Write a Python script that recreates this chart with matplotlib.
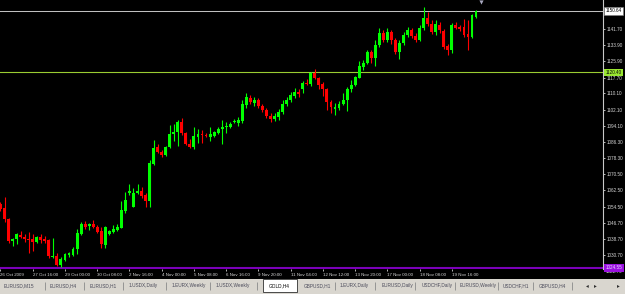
'''
GOLD H4 candlestick chart, MetaTrader style screenshot.
'''

#Imports
import matplotlib
matplotlib.use('Agg')
import numpy as np
import matplotlib.pyplot as plt
from matplotlib.patches import Rectangle

plt.rcParams['font.family'] = ['Liberation Sans', 'DejaVu Sans']

#Data (OHLC of the H4 bars)
opens = [1055.8, 1053.8, 1048.4, 1037.6, 1038.6, 1040.5, 1039.6, 1038.6, 1038.6, 1037.1,
         1039.6, 1038.6, 1038.1, 1029.8, 1030.3, 1025.8, 1028.3, 1030.7, 1030.7, 1033.7,
         1041.0, 1045.9, 1044.9, 1045.9, 1044.5, 1042.5, 1035.6, 1041.0, 1042.0, 1043.0,
         1044.0, 1052.3, 1061.1, 1054.3, 1061.1, 1062.1, 1060.1, 1057.2, 1075.4, 1083.8,
         1081.3, 1079.9, 1083.8, 1090.2, 1091.2, 1096.1, 1090.7, 1085.2, 1083.8, 1088.7,
         1090.2, 1089.7, 1088.7, 1089.2, 1090.7, 1092.6, 1093.6, 1093.6, 1096.1, 1095.6,
         1096.6, 1104.4, 1107.9, 1105.4, 1106.9, 1103.9, 1102.0, 1099.0, 1097.5, 1098.5,
         1101.0, 1104.9, 1106.9, 1108.8, 1110.8, 1112.3, 1115.2, 1114.7, 1120.1, 1117.7,
         1114.7, 1112.3, 1105.9, 1102.5, 1102.9, 1104.9, 1106.9, 1112.3, 1114.2, 1117.7,
         1123.1, 1125.1, 1130.5, 1127.5, 1133.9, 1139.8, 1136.4, 1140.3, 1136.4, 1130.5,
         1134.9, 1138.8, 1141.3, 1138.3, 1136.4, 1142.2, 1147.2, 1144.2, 1140.3, 1143.7,
         1140.8, 1133.4, 1131.4, 1143.7, 1142.7, 1142.7, 1139.3, 1137.8, 1147.6]
highs = [1056.7, 1059.2, 1048.9, 1039.1, 1041.5, 1042.5, 1041.0, 1042.0, 1041.0, 1040.0,
         1041.0, 1040.0, 1038.6, 1039.1, 1031.7, 1029.8, 1031.7, 1032.2, 1034.7, 1043.5,
         1046.9, 1047.4, 1046.4, 1047.9, 1045.4, 1044.5, 1044.9, 1043.0, 1045.4, 1045.9,
         1057.2, 1061.6, 1065.6, 1063.6, 1065.6, 1064.1, 1061.1, 1077.4, 1087.2, 1085.2,
         1082.3, 1084.3, 1094.6, 1095.1, 1097.1, 1098.0, 1091.2, 1087.7, 1093.6, 1092.6,
         1092.1, 1090.7, 1093.6, 1091.6, 1093.6, 1097.1, 1096.1, 1096.1, 1097.5, 1098.5,
         1106.9, 1110.3, 1109.3, 1108.4, 1107.9, 1104.9, 1102.9, 1100.5, 1100.5, 1102.5,
         1106.9, 1108.4, 1110.8, 1112.8, 1112.3, 1116.2, 1117.2, 1120.6, 1122.1, 1118.2,
         1115.7, 1112.8, 1106.9, 1105.4, 1106.4, 1110.3, 1113.3, 1116.7, 1118.7, 1126.0,
         1126.5, 1131.4, 1131.4, 1136.4, 1142.2, 1141.3, 1142.2, 1141.3, 1137.3, 1136.4,
         1140.3, 1142.7, 1142.2, 1139.8, 1143.7, 1152.6, 1150.1, 1146.2, 1146.2, 1145.2,
         1141.7, 1134.4, 1144.7, 1145.2, 1143.7, 1146.7, 1146.2, 1149.1, 1150.9]
lows = [1052.3, 1046.9, 1036.6, 1035.2, 1036.1, 1039.1, 1037.1, 1031.7, 1032.7, 1036.6,
        1036.6, 1036.6, 1029.3, 1029.3, 1025.3, 1024.8, 1027.8, 1029.8, 1030.3, 1031.2,
        1040.5, 1043.5, 1043.0, 1044.0, 1041.5, 1034.2, 1034.2, 1040.5, 1041.5, 1042.5,
        1044.0, 1051.3, 1060.1, 1054.3, 1060.6, 1058.7, 1054.3, 1054.3, 1074.9, 1080.8,
        1078.9, 1079.4, 1083.3, 1086.7, 1084.3, 1089.7, 1084.8, 1083.3, 1082.8, 1085.7,
        1085.7, 1088.7, 1086.7, 1088.7, 1090.2, 1085.2, 1090.7, 1093.1, 1095.6, 1094.1,
        1095.6, 1102.9, 1104.9, 1103.9, 1102.9, 1101.0, 1098.0, 1096.1, 1096.6, 1097.1,
        1100.0, 1103.9, 1105.9, 1107.9, 1108.4, 1110.3, 1114.2, 1113.7, 1117.2, 1112.3,
        1108.8, 1102.0, 1100.5, 1099.5, 1102.0, 1104.4, 1101.5, 1110.8, 1113.7, 1117.7,
        1121.6, 1124.6, 1125.1, 1123.6, 1132.9, 1135.4, 1135.4, 1134.4, 1129.5, 1127.0,
        1133.9, 1137.8, 1137.3, 1135.4, 1135.9, 1141.3, 1143.2, 1139.3, 1138.8, 1139.8,
        1131.9, 1129.0, 1130.0, 1141.7, 1140.8, 1137.8, 1131.4, 1137.3, 1147.2]
closes = [1053.3, 1048.4, 1037.6, 1038.6, 1041.0, 1039.6, 1038.6, 1038.1, 1037.1, 1039.6,
          1038.1, 1037.6, 1030.3, 1030.3, 1025.8, 1028.8, 1031.2, 1031.7, 1033.7, 1041.5,
          1045.9, 1044.5, 1045.9, 1044.5, 1042.0, 1036.1, 1044.5, 1042.5, 1043.5, 1044.5,
          1052.8, 1057.7, 1062.1, 1061.1, 1062.1, 1059.6, 1057.2, 1075.9, 1083.3, 1081.3,
          1079.9, 1083.8, 1090.2, 1091.2, 1096.1, 1090.7, 1085.2, 1083.8, 1089.2, 1090.2,
          1089.7, 1089.2, 1090.2, 1091.2, 1092.6, 1093.6, 1094.1, 1095.1, 1096.6, 1097.1,
          1104.9, 1108.4, 1105.9, 1106.9, 1103.9, 1102.0, 1099.0, 1097.5, 1099.0, 1101.0,
          1104.9, 1106.9, 1109.3, 1110.8, 1109.8, 1115.2, 1114.7, 1120.1, 1117.7, 1114.2,
          1112.3, 1105.9, 1103.4, 1103.4, 1104.9, 1106.9, 1112.3, 1114.2, 1118.2, 1123.6,
          1125.1, 1130.5, 1127.5, 1133.9, 1139.8, 1136.4, 1140.3, 1136.4, 1130.5, 1134.9,
          1138.8, 1141.3, 1138.3, 1136.4, 1142.2, 1147.2, 1144.2, 1140.3, 1144.2, 1141.3,
          1132.9, 1131.4, 1143.7, 1142.2, 1141.7, 1138.8, 1137.8, 1148.6, 1150.6]

time_labels = ['26 Oct 2009', '27 Oct 16:00', '29 Oct 00:00', '30 Oct 08:00', '2 Nov 16:00',
               '4 Nov 00:00', '5 Nov 08:00', '6 Nov 16:00', '9 Nov 20:00', '11 Nov 04:00',
               '12 Nov 12:00', '13 Nov 20:00', '17 Nov 00:00', '18 Nov 08:00', '19 Nov 16:00']
price_ticks = [1141.70, 1133.90, 1125.90, 1117.70, 1110.10, 1102.10, 1094.10, 1086.30,
               1078.30, 1070.50, 1062.50, 1054.50, 1046.70, 1038.70, 1030.70]
bid_price = 1150.64
green_level = 1120.40
purple_level = 1024.55

tab_names = ['EURUSD,M15', 'EURUSD,H4', 'EURUSD,H1', '1.USDX,Daily', '1.EURX,Weekly',
             '1.USDX,Weekly', 'GOLD,H4', 'GBPUSD,H1', '1.EURX,Daily', 'EURUSD,Daily',
             'USDCHF,Daily', 'EURUSD,Weekly', 'USDCHF,H1', 'GBPUSD,H4']
active_tab = 'GOLD,H4'

#Layout (pixels of the 625x294 screenshot)
W, H = 625, 294
tab_x = [4, 50, 90, 129, 172, 216, 269, 304, 340, 382, 422, 460, 503, 539]
tab_sep = [45, 84, 123, 166, 210, 257, 335, 375, 415, 455, 498, 533, 572]

fig = plt.figure(figsize=(W/100, H/100), dpi=100, facecolor='black')
ax = fig.add_axes([0, (H-269)/H, 603/W, 269/H], facecolor='black')

#Candles
o = np.array(opens); h = np.array(highs); l = np.array(lows); c = np.array(closes)
x = np.arange(len(c))
cols = np.where(c >= o, '#00ff00', '#ff0000')
ax.vlines(x, l, h, colors=cols, lw=0.8, zorder=3)
ax.bar(x, np.maximum(np.abs(c-o), 0.4), width=0.72, bottom=np.minimum(o, c),
       color=cols, linewidth=0, zorder=4)

#Horizontal lines
ax.axhline(bid_price, color='#c0c0c0', lw=0.75, zorder=2)
ax.axhline(green_level, color='#9acd32', lw=0.8, zorder=2)
ax.axhline(purple_level, color='#7a00b8', lw=1.5, zorder=2)

ax.set_xlim(-0.12, 149.5)
ax.set_ylim(1023.9, 1156.0)

#Axes styling
for s in ['top', 'left', 'bottom']:
    ax.spines[s].set_visible(False)
ax.spines['right'].set_color('#c8c8c8')
ax.spines['right'].set_linewidth(0.8)

ax.yaxis.tick_right()
ax.set_yticks(price_ticks)
ax.set_yticklabels(['{:.2f}'.format(p) for p in price_ticks])
ax.tick_params(axis='y', colors='#d8d8d8', labelsize=3.3, length=1.5, width=0.6, pad=1.2)

ax.set_xticks(np.arange(len(time_labels))*8)
ax.set_xticklabels(time_labels)
ax.tick_params(axis='x', colors='#d8d8d8', labelsize=3.2, length=1.5, width=0.6, pad=1.5)
plt.setp(ax.get_xticklabels(), ha='left')

#Price labels on the right scale
yax = ax.get_yaxis_transform()
ax.text(1.0045, 1022.70, '1022.70', transform=yax, fontsize=3.3, color='#d8d8d8',
        va='center', ha='left', clip_on=False)
ax.text(1.0045, bid_price, '{:.2f}'.format(bid_price), transform=yax, fontsize=3.3, color='black',
        va='center', ha='left', clip_on=False, zorder=10,
        bbox=dict(boxstyle='square,pad=0.3', fc='white', ec='#808080', lw=0.4))
ax.text(1.0045, green_level, '{:.2f}'.format(green_level), transform=yax, fontsize=3.3, color='black',
        va='center', ha='left', clip_on=False, zorder=10,
        bbox=dict(boxstyle='square,pad=0.3', fc='#9ae632', ec='none'))
ax.text(1.0045, purple_level, '{:.2f}'.format(purple_level), transform=yax, fontsize=3.3, color='#e8d8ff',
        va='center', ha='left', clip_on=False, zorder=10,
        bbox=dict(boxstyle='square,pad=0.3', fc='#9a10e0', ec='none'))

#Chart shift marker
ax.plot(len(c)+0.2, 0.993, marker='v', ms=3, color='#a8a8c0', mec='none',
        transform=ax.get_xaxis_transform(), clip_on=False, zorder=10)

#Tab strip
tax = fig.add_axes([0, 0, 1, 15/H], facecolor='#d9d6cf')
tax.set_xlim(0, W)
tax.set_ylim(H, H-15)
tax.axis('off')
tax.add_patch(Rectangle((0, H-15), W, 15, fc='#d9d6cf', ec='none'))
tax.add_patch(Rectangle((263, H-15), 34, 13, fc='white', ec='#303030', lw=0.6))
tax.vlines(tab_sep, H-12, H-4, colors='#8a8a8a', lw=0.6)
for name, tx in zip(tab_names, tab_x):
    tax.text(tx, H-8, name, fontsize=3.4, va='center', ha='left',
             color='black' if name == active_tab else '#4a4a5a')
tax.text(586, H-8, '\u25c2', fontsize=4, va='center', ha='left', color='#303030')
tax.text(594, H-8, '\u25b8', fontsize=4, va='center', ha='left', color='#303030')
tax.text(617, H-8, '\u25b8', fontsize=4, va='center', ha='left', color='#303030')

fig.savefig('out.png', dpi=100, facecolor='black')
